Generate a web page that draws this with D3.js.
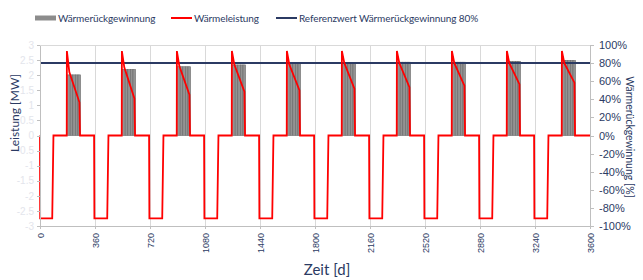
<!DOCTYPE html>
<meta charset="utf-8">
<head>
<style>
body { margin: 0; background: #fff; }
svg { font-family: "Lato", "Noto Sans", sans-serif; }
.axis path, .axis line { fill: none; stroke: #bfbfbf; shape-rendering: crispEdges; }
.grid line { stroke: #d9d9d9; shape-rendering: crispEdges; }
</style>
</head>
<body>
<div id="chart"></div>
<script src="https://d3js.org/d3.v7.min.js"></script>
<script>

// Wärmeleistung [MW] over time [d] : [day, MW]
var powerPoints = [
  [0,0],[1,-2.75],[80,-2.75],[88,0],[175,0],[176,2.8],[192,2.1],[258,1.1],[262,0],[354,0],[356,-2.75],
  [440,-2.75],[448,0],[535,0],[536,2.8],[552,2.25],[618,1.23],[622,0],[714,0],[716,-2.75],
  [800,-2.75],[808,0],[895,0],[896,2.8],[912,2.3],[978,1.35],[982,0],[1074,0],[1076,-2.75],
  [1160,-2.75],[1168,0],[1255,0],[1256,2.8],[1272,2.35],[1338,1.45],[1342,0],[1434,0],[1436,-2.75],
  [1520,-2.75],[1528,0],[1615,0],[1616,2.8],[1632,2.35],[1698,1.5],[1702,0],[1794,0],[1796,-2.75],
  [1880,-2.75],[1888,0],[1975,0],[1976,2.8],[1992,2.4],[2058,1.55],[2062,0],[2154,0],[2156,-2.75],
  [2240,-2.75],[2248,0],[2335,0],[2336,2.8],[2352,2.4],[2418,1.6],[2422,0],[2514,0],[2516,-2.75],
  [2600,-2.75],[2608,0],[2695,0],[2696,2.8],[2712,2.4],[2778,1.65],[2782,0],[2874,0],[2876,-2.75],
  [2960,-2.75],[2968,0],[3055,0],[3056,2.8],[3072,2.4],[3138,1.7],[3142,0],[3234,0],[3236,-2.75],
  [3320,-2.75],[3328,0],[3415,0],[3416,2.8],[3432,2.4],[3498,1.75],[3502,0],[3600,0]
];

// Wärmerückgewinnung [%] per year, and the days (within a year) where its bars sit
var yearStarts = [0, 360, 720, 1080, 1440, 1800, 2160, 2520, 2880, 3240];
var recoveryPct = [67, 73, 76, 78, 80, 80, 81, 81, 82, 83];
var barDays = [189, 206, 223, 240, 257];
var barSpan = 17;

var referencePct = 80;
var xTicks = [0, 360, 720, 1080, 1440, 1800, 2160, 2520, 2880, 3240, 3600];
var leftTicks = [3, 2.5, 2, 1.5, 1, 0.5, 0, -0.5, -1, -1.5, -2, -2.5, -3];
var rightTicks = [100, 80, 60, 40, 20, 0, -20, -40, -60, -80, -100];

var W = 643, H = 280;
var plot = {left: 40, right: 590, top: 45, bottom: 226};
var navy = "#2b3a63";

var svg = d3.select("#chart").append("svg")
  .attr("width", W).attr("height", H);

var x = d3.scaleLinear().domain([0, 3600]).range([plot.left, plot.right]);
var yL = d3.scaleLinear().domain([-3, 3]).range([plot.bottom, plot.top]);
var yR = d3.scaleLinear().domain([-100, 100]).range([plot.bottom, plot.top]);

// vertical grid
svg.append("g").attr("class", "grid")
  .selectAll("line")
  .data(xTicks.slice(1, -1))
  .enter().append("line")
    .attr("x1", function(d){ return x(d) + 0.5; })
    .attr("x2", function(d){ return x(d) + 0.5; })
    .attr("y1", plot.top).attr("y2", plot.bottom);

// top border
svg.append("line")
  .attr("x1", plot.left).attr("x2", plot.right)
  .attr("y1", plot.top + 0.5).attr("y2", plot.top + 0.5)
  .attr("stroke", "#d9d9d9");

// bars
var bars = [];
yearStarts.forEach(function(s, i){
  barDays.forEach(function(b){ bars.push({day: s + b, pct: recoveryPct[i]}); });
});
svg.append("g").selectAll("rect")
  .data(bars)
  .enter().append("rect")
    .attr("x", function(d){ return x(d.day - barSpan / 2); })
    .attr("width", function(d){ return x(barSpan) - x(0); })
    .attr("y", function(d){ return yR(d.pct); })
    .attr("height", function(d){ return yR(0) - yR(d.pct); })
    .attr("fill", "#939393")
    .attr("stroke", "#6a6a6a")
    .attr("stroke-width", 0.6);

// reference line
svg.append("line")
  .attr("x1", plot.left).attr("x2", plot.right)
  .attr("y1", yR(referencePct)).attr("y2", yR(referencePct))
  .attr("stroke", navy).attr("stroke-width", 2);

// power line
var line = d3.line()
  .x(function(d){ return x(d[0]); })
  .y(function(d){ return yL(d[1]); });
svg.append("path")
  .datum(powerPoints)
  .attr("d", line)
  .attr("fill", "none")
  .attr("stroke", "#ff0000")
  .attr("stroke-width", 1.8)
  .attr("stroke-linejoin", "miter");

// axes
var xAxis = svg.append("g").attr("class", "axis")
  .attr("transform", "translate(0," + plot.bottom + ")")
  .call(d3.axisBottom(x).tickValues(xTicks).tickSize(3).tickSizeOuter(0)
    .tickFormat(function(d){ return String(d); }));
xAxis.selectAll("text")
  .attr("transform", "rotate(-90)")
  .attr("text-anchor", "end")
  .attr("x", -7).attr("y", 0).attr("dy", "0.35em")
  .style("font-size", "9px")
  .style("fill", navy);

var leftAxis = svg.append("g").attr("class", "axis")
  .attr("transform", "translate(" + plot.left + ",0)")
  .call(d3.axisLeft(yL).tickValues(leftTicks).tickSize(3).tickSizeOuter(0)
    .tickFormat(function(d){ return String(d); }));
leftAxis.selectAll("text")
  .style("font-size", "10px")
  .style("fill", "#e3e5ec");

var rightAxis = svg.append("g").attr("class", "axis")
  .attr("transform", "translate(" + plot.right + ",0)")
  .call(d3.axisRight(yR).tickValues(rightTicks).tickSize(4).tickSizeOuter(0)
    .tickFormat(function(d){ return d + "%"; }));
rightAxis.selectAll("text")
  .attr("x", 9)
  .style("font-size", "11px")
  .style("fill", navy);

// axis titles
svg.append("text")
  .attr("transform", "translate(19,113) rotate(-90)")
  .attr("text-anchor", "middle")
  .style("font-size", "12px")
  .style("fill", navy)
  .text("Leistung [MW]");

svg.append("text")
  .attr("transform", "translate(626,137) rotate(90)")
  .attr("text-anchor", "middle")
  .style("font-size", "10.5px")
  .style("fill", navy)
  .text("Wärmerückgewinnung [%]");

svg.append("text")
  .attr("x", 327).attr("y", 275)
  .attr("text-anchor", "middle")
  .style("font-size", "15px")
  .style("fill", navy)
  .text("Zeit [d]");

// legend
var legend = [
  {label: "Wärmerückgewinnung", x: 35, color: "#8c8c8c", w: 5},
  {label: "Wärmeleistung", x: 171, color: "#ff0000", w: 2},
  {label: "Referenzwert Wärmerückgewinnung 80%", x: 276, color: navy, w: 2}
];
var lg = svg.append("g").selectAll("g")
  .data(legend).enter().append("g")
  .attr("transform", function(d){ return "translate(" + d.x + ",18)"; });
lg.append("line")
  .attr("x1", 0).attr("x2", 21)
  .attr("stroke", function(d){ return d.color; })
  .attr("stroke-width", function(d){ return d.w; });
lg.append("text")
  .attr("x", 23).attr("dy", "0.35em")
  .style("font-size", "10px")
  .style("letter-spacing", "-0.1px")
  .style("fill", navy)
  .text(function(d){ return d.label; });

</script>
</body>
